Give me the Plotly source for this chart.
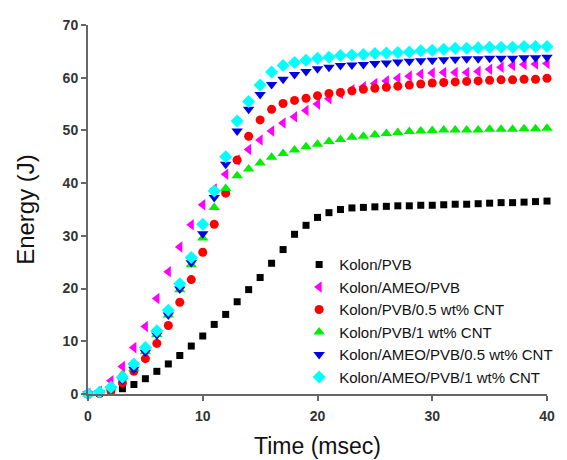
import plotly.graph_objects as go

time_ms = list(range(0, 41))

names = [
    "Kolon/PVB",
    "Kolon/AMEO/PVB",
    "Kolon/PVB/0.5 wt% CNT",
    "Kolon/PVB/1 wt% CNT",
    "Kolon/AMEO/PVB/0.5 wt% CNT",
    "Kolon/AMEO/PVB/1 wt% CNT",
]

kolon_pvb = [0, 0.1, 0.4, 1.0, 1.8, 2.9, 4.3, 5.7, 7.3, 9.1, 11.0, 13.2, 15.1, 17.5, 19.8,
             22.1, 24.8, 27.4, 30.3, 32.0, 33.5, 34.4, 35.0, 35.3, 35.4, 35.5, 35.6, 35.7,
             35.7, 35.8, 35.8, 35.9, 36.0, 36.0, 36.1, 36.2, 36.3, 36.3, 36.4, 36.5, 36.6]

kolon_ameo_pvb = [0.1, 0.5, 2.5, 5.2, 8.8, 12.8, 18.1, 23.2, 27.9, 32.1, 35.9, 38.9, 41.7,
                  44.4, 46.4, 48.2, 49.9, 51.4, 52.6, 53.8, 55.0, 56.0, 57.0, 57.7, 58.3,
                  58.9, 59.4, 59.9, 60.3, 60.7, 60.9, 61.0, 61.0, 61.0, 61.2, 61.6, 62.0,
                  62.3, 62.5, 62.6, 62.7]

kolon_pvb_05cnt = [0, 0.1, 0.6, 2.1, 4.3, 6.7, 9.6, 13.0, 17.4, 21.7, 26.9, 32.2, 38.1, 44.4,
                   48.9, 52.0, 54.0, 55.1, 55.7, 56.1, 56.6, 57.0, 57.2, 57.5, 57.8, 58.0,
                   58.2, 58.4, 58.6, 58.8, 59.0, 59.1, 59.2, 59.3, 59.4, 59.5, 59.6, 59.6,
                   59.7, 59.7, 59.9]

kolon_pvb_1cnt = [0, 0.3, 1.2, 3.7, 4.9, 8.0, 11.3, 15.0, 19.8, 24.5, 29.6, 35.4, 39.0, 41.4,
                  42.7, 43.8, 44.9, 45.6, 46.3, 46.9, 47.4, 47.9, 48.3, 48.7, 48.9, 49.2,
                  49.4, 49.6, 49.8, 49.9, 50.0, 50.1, 50.1, 50.1, 50.1, 50.2, 50.2, 50.2,
                  50.3, 50.3, 50.4]

kolon_ameo_pvb_05cnt = [0, 0.2, 1.0, 2.6, 4.7, 7.9, 11.2, 15.0, 19.9, 24.9, 30.4, 37.3, 43.6,
                        49.9, 54.0, 56.8, 58.7, 59.7, 60.6, 61.2, 61.7, 62.0, 62.3, 62.4,
                        62.5, 62.7, 62.8, 63.0, 63.1, 63.2, 63.3, 63.4, 63.5, 63.6, 63.6,
                        63.7, 63.7, 63.7, 63.8, 63.8, 63.9]

kolon_ameo_pvb_1cnt = [0, 0.4, 1.3, 3.2, 5.7, 8.8, 12.0, 15.9, 20.9, 25.9, 32.2, 38.5, 45.0,
                       51.8, 55.5, 58.6, 61.1, 62.3, 62.9, 63.3, 63.7, 63.9, 64.2, 64.3,
                       64.4, 64.6, 64.7, 64.8, 64.9, 65.1, 65.2, 65.4, 65.6, 65.6, 65.7,
                       65.8, 65.8, 65.8, 65.9, 65.9, 65.9]

x_ticks = [0, 10, 20, 30, 40]
y_ticks = [0, 10, 20, 30, 40, 50, 60, 70]

series = [kolon_pvb, kolon_ameo_pvb, kolon_pvb_05cnt, kolon_pvb_1cnt,
          kolon_ameo_pvb_05cnt, kolon_ameo_pvb_1cnt]
colors = ["#000000", "#FF00FF", "#FF0000", "#00EE00", "#0000E6", "#00FFFF"]
symbols = ["square", "triangle-left", "circle", "triangle-up", "triangle-down", "diamond"]
sizes = [7, 10, 9, 10, 10, 10]

fig = go.Figure()
for name, vals, c, s, sz in zip(names, series, colors, symbols, sizes):
    fig.add_trace(go.Scatter(
        x=time_ms, y=vals, mode="markers", name=name, cliponaxis=False,
        marker=dict(color=c, symbol=s, size=sz, line=dict(width=0)),
    ))

axis_common = dict(
    showgrid=False, zeroline=False, showline=True, linecolor="#666666", linewidth=2,
    ticks="outside", ticklen=5, tickwidth=2, tickcolor="#666666",
    tickfont=dict(family="Liberation Sans, Arial", size=14, color="#333333", weight="bold"),
)

fig.update_layout(
    width=567, height=460,
    margin=dict(l=80, r=28, t=9, b=74),
    paper_bgcolor="white", plot_bgcolor="white",
    font=dict(family="Liberation Sans, Arial", color="#111111"),
    xaxis=dict(range=[0, 40], tickvals=x_ticks, ticklabelstandoff=3, **axis_common,
               title=dict(text="Time (msec)", font=dict(size=23, color="#111111"), standoff=15)),
    yaxis=dict(range=[0, 70], tickvals=y_ticks, **axis_common,
               title=dict(text="Energy (J)", font=dict(size=24, color="#111111"), standoff=21)),
    legend=dict(x=0.46, y=0.395, xanchor="left", yanchor="top",
                font=dict(family="Liberation Sans, Arial", size=15, color="#111111"),
                bgcolor="rgba(0,0,0,0)", tracegroupgap=0, itemsizing="trace"),
    showlegend=True,
)

fig.write_html("out.html")
